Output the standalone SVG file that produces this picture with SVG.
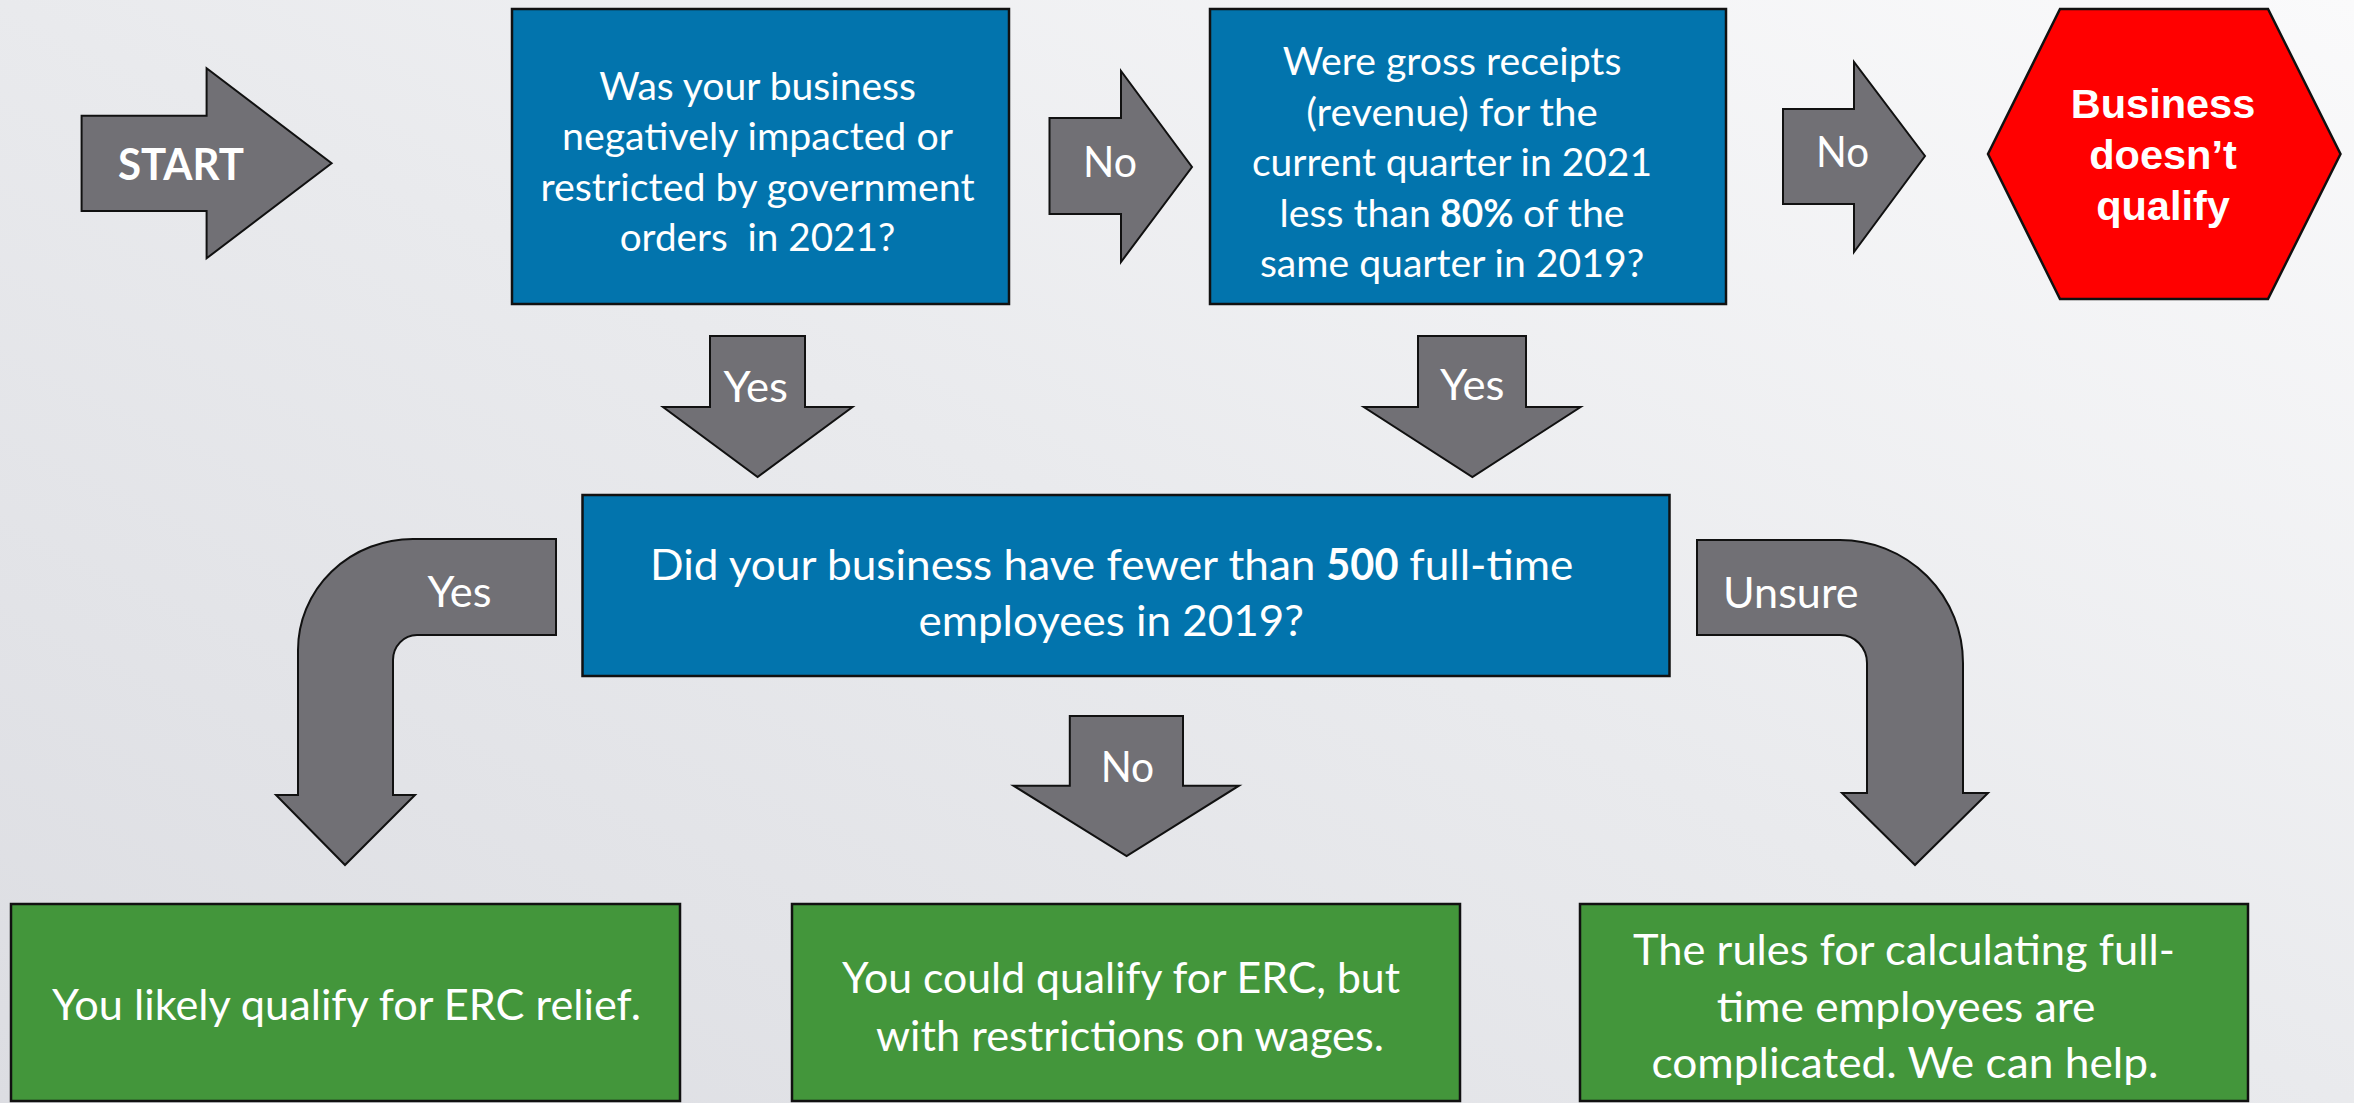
<svg xmlns="http://www.w3.org/2000/svg" width="2354" height="1103" viewBox="0 0 2354 1103">
  <defs>
    <linearGradient id="bg" x1="0" y1="1" x2="1" y2="0">
      <stop offset="0" stop-color="#dcdde2"/>
      <stop offset="0.5" stop-color="#e9eaed"/>
      <stop offset="1" stop-color="#fafafb"/>
    </linearGradient>
    <style>
      .q { fill: #0274ad; stroke: #111; stroke-width: 2.5; }
      .res { fill: #43963b; stroke: #111; stroke-width: 2.5; }
      .stop { fill: #ff0000; stroke: #111; stroke-width: 2.5; }
      .arrow { fill: #717075; stroke: #111; stroke-width: 2; stroke-linejoin: miter; }
      .t { font-family: Lato, "Open Sans", sans-serif; fill: #ffffff; }
      .t42 { font-size: 38.5px; }
      .t47 { font-size: 43px; }
      .b { font-weight: bold; }
      .hx { font-family: "Liberation Sans", Arial, sans-serif; font-weight: bold; font-size: 41.5px; fill: #ffffff; }
    </style>
  </defs>

  <rect x="0" y="0" width="2354" height="1103" fill="url(#bg)"/>

  <!-- connectors: block arrows with their labels -->
  <g id="connectors">
    <g id="arrow-start">
      <path class="arrow" d="M81.6,115.7 L206.6,115.7 L206.6,68.3 L331.6,163.3 L206.6,258.3 L206.6,211 L81.6,211 Z"/>
      <text class="t t47 b" x="118" y="180" textLength="126" lengthAdjust="spacingAndGlyphs">START</text>
    </g>
    <g id="arrow-q1-no">
      <path class="arrow" d="M1049.5,118 L1121,118 L1121,71 L1192,167 L1121,262 L1121,214 L1049.5,214 Z"/>
      <text class="t t47" x="1083" y="177" textLength="54" lengthAdjust="spacingAndGlyphs">No</text>
    </g>
    <g id="arrow-q2-no">
      <path class="arrow" d="M1783,109 L1854,109 L1854,62 L1925,156 L1854,252 L1854,204 L1783,204 Z"/>
      <text class="t t47" x="1816" y="167" textLength="53" lengthAdjust="spacingAndGlyphs">No</text>
    </g>
    <g id="arrow-q1-yes">
      <path class="arrow" d="M710,336 L805,336 L805,407 L852.5,407 L757.6,477 L663,407 L710,407 Z"/>
      <text class="t t47" x="723.5" y="402" textLength="64.5" lengthAdjust="spacingAndGlyphs">Yes</text>
    </g>
    <g id="arrow-q2-yes">
      <path class="arrow" d="M1418,336 L1526,336 L1526,407 L1580.6,407 L1472.4,477 L1363.8,407 L1418,407 Z"/>
      <text class="t t47" x="1440" y="400" textLength="64.5" lengthAdjust="spacingAndGlyphs">Yes</text>
    </g>
    <g id="arrow-q3-yes">
      <path class="arrow" d="M556,539 L413,539 A115,111 0 0 0 298,650 L298,795 L276,795 L345,865 L415,795 L393,795 L393,660 A24,25 0 0 1 417,635 L556,635 Z"/>
      <text class="t t47" x="427.5" y="607" textLength="64" lengthAdjust="spacingAndGlyphs">Yes</text>
    </g>
    <g id="arrow-q3-no">
      <path class="arrow" d="M1069.8,716 L1183,716 L1183,785.7 L1239,785.7 L1126.6,856 L1013.5,785.7 L1069.8,785.7 Z"/>
      <text class="t t47" x="1100.7" y="781.7" textLength="53.5" lengthAdjust="spacingAndGlyphs">No</text>
    </g>
    <g id="arrow-q3-unsure">
      <path class="arrow" d="M1697,540 L1840,540 A123,123 0 0 1 1963,663 L1963,793 L1988,793 L1915,865 L1842,793 L1867,793 L1867,663 A27,28 0 0 0 1840,635 L1697,635 Z"/>
      <text class="t t47" x="1723" y="608" textLength="135.5" lengthAdjust="spacingAndGlyphs">Unsure</text>
    </g>
  </g>

  <!-- question 1 -->
  <g id="q-impacted">
    <rect class="q" x="512" y="9" width="497" height="295"/>
    <text class="t t42" x="599.2" y="99.5" textLength="316.7" lengthAdjust="spacingAndGlyphs">Was your business</text>
    <text class="t t42" x="562" y="150" textLength="391" lengthAdjust="spacingAndGlyphs">negatively impacted or</text>
    <text class="t t42" x="540.4" y="200.5" textLength="434.3" lengthAdjust="spacingAndGlyphs">restricted by government</text>
    <text class="t t42" x="619.7" y="251" textLength="275.6" lengthAdjust="spacingAndGlyphs" style="white-space:pre">orders  in 2021?</text>
  </g>

  <!-- question 2 -->
  <g id="q-receipts">
    <rect class="q" x="1210" y="9" width="516" height="295"/>
    <text class="t t42" x="1282.7" y="75" textLength="338.7" lengthAdjust="spacingAndGlyphs">Were gross receipts</text>
    <text class="t t42" x="1306.2" y="125.5" textLength="291.6" lengthAdjust="spacingAndGlyphs">(revenue) for the</text>
    <text class="t t42" x="1252" y="176" textLength="400" lengthAdjust="spacingAndGlyphs">current quarter in 2021</text>
    <text class="t t42" x="1279.6" y="226.5" textLength="151.2" lengthAdjust="spacingAndGlyphs">less than</text>
    <text class="t t42 b" x="1440.3" y="226.5" textLength="73.2" lengthAdjust="spacingAndGlyphs">80%</text>
    <text class="t t42" x="1523" y="226.5" textLength="101.5" lengthAdjust="spacingAndGlyphs">of the</text>
    <text class="t t42" x="1259.9" y="277" textLength="384.3" lengthAdjust="spacingAndGlyphs">same quarter in 2019?</text>
  </g>

  <!-- outcome: does not qualify -->
  <g id="end-not-qualify">
    <polygon class="stop" points="2060,9 2268,9 2340.5,154 2268,299 2060,299 1988,154"/>
    <text class="hx" x="2163" y="118" text-anchor="middle">Business</text>
    <text class="hx" x="2163" y="169" text-anchor="middle">doesn’t</text>
    <text class="hx" x="2163" y="220" text-anchor="middle">qualify</text>
  </g>

  <!-- question 3 -->
  <g id="q-employees">
    <rect class="q" x="582.5" y="495" width="1087" height="181"/>
    <text class="t t47" x="650" y="580" textLength="665.5" lengthAdjust="spacingAndGlyphs">Did your business have fewer than</text>
    <text class="t t47 b" x="1326.3" y="580" textLength="72.2" lengthAdjust="spacingAndGlyphs">500</text>
    <text class="t t47" x="1409.2" y="580" textLength="164.1" lengthAdjust="spacingAndGlyphs">full-time</text>
    <text class="t t47" x="918.5" y="636" textLength="385.5" lengthAdjust="spacingAndGlyphs">employees in 2019?</text>
  </g>

  <!-- outcomes -->
  <g id="end-likely">
    <rect class="res" x="11" y="904" width="669" height="197"/>
    <text class="t t47" x="52" y="1020" textLength="589" lengthAdjust="spacingAndGlyphs">You likely qualify for ERC relief.</text>
  </g>
  <g id="end-restricted">
    <rect class="res" x="792" y="904" width="668" height="197"/>
    <text class="t t47" x="842" y="993" textLength="558" lengthAdjust="spacingAndGlyphs">You could qualify for ERC, but</text>
    <text class="t t47" x="876" y="1051" textLength="508" lengthAdjust="spacingAndGlyphs">with restrictions on wages.</text>
  </g>
  <g id="end-unsure">
    <rect class="res" x="1580" y="904" width="668" height="197"/>
    <text class="t t47" x="1633" y="965" textLength="541.8" lengthAdjust="spacingAndGlyphs">The rules for calculating full-</text>
    <text class="t t47" x="1716.7" y="1021.5" textLength="378.7" lengthAdjust="spacingAndGlyphs">time employees are</text>
    <text class="t t47" x="1651.5" y="1078" textLength="507" lengthAdjust="spacingAndGlyphs">complicated. We can help.</text>
  </g>
</svg>
